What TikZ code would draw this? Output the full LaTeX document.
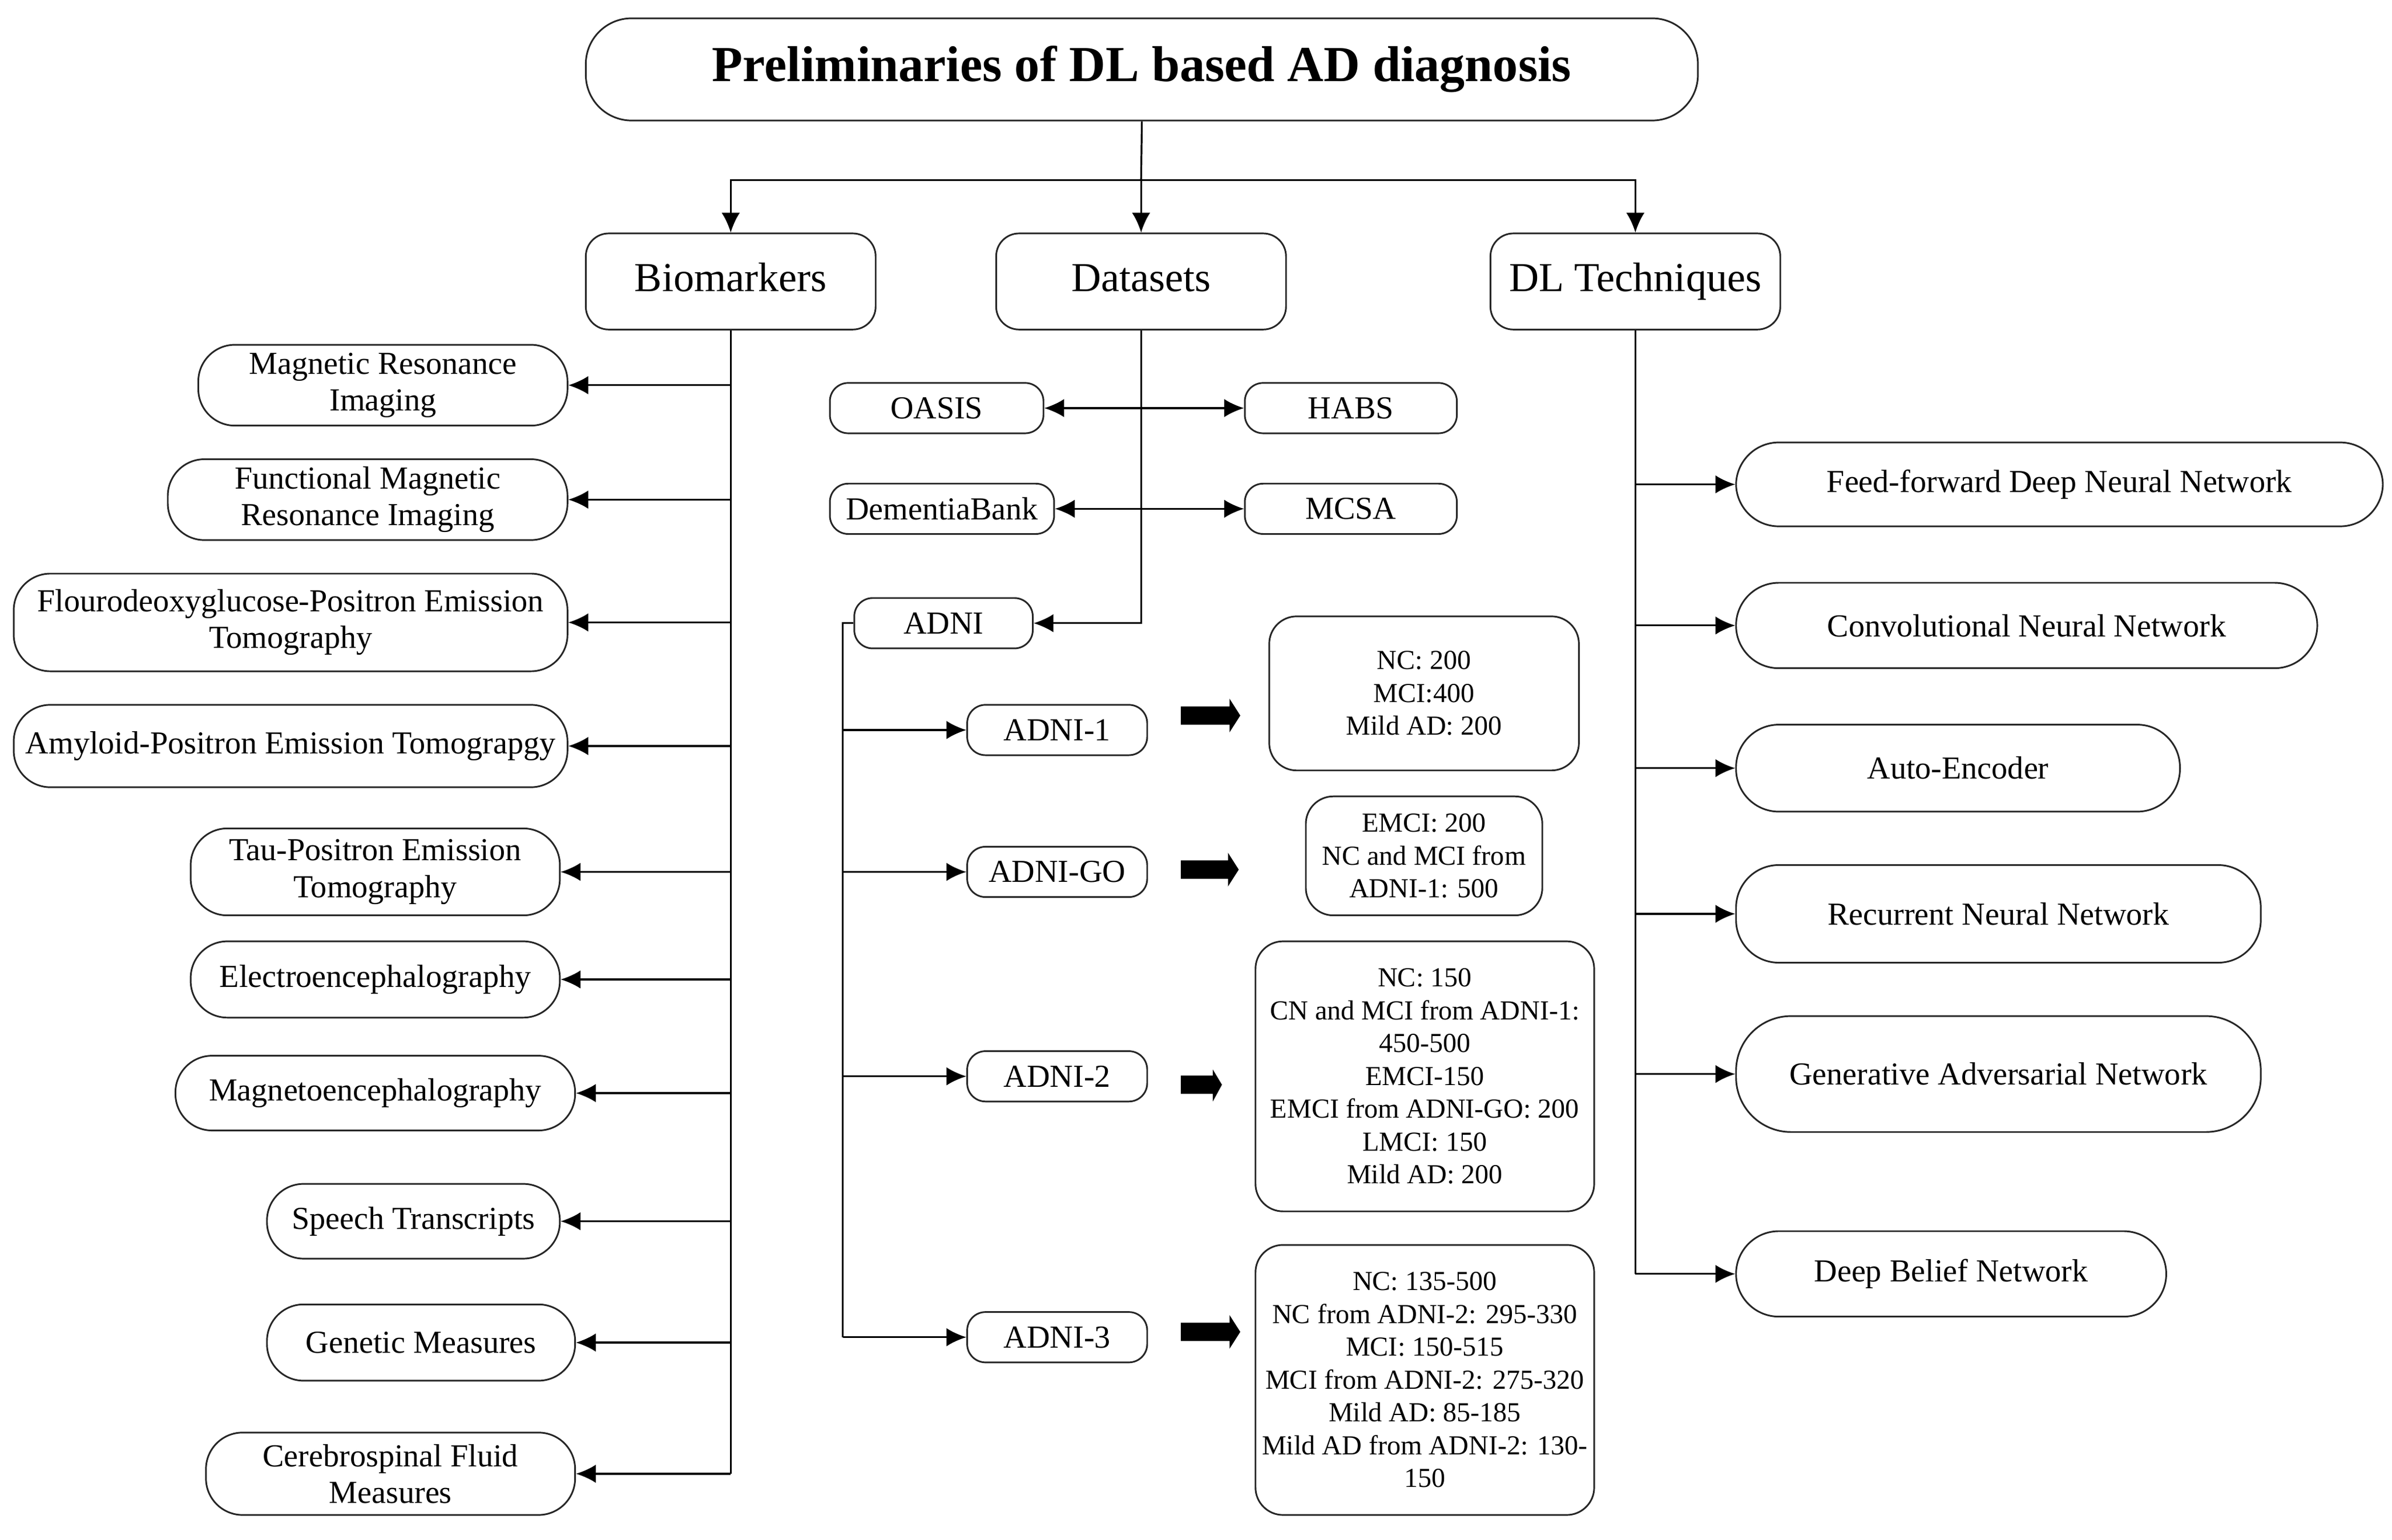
\documentclass[tikz,border=0pt]{standalone}
\usepackage{fontspec}
\setmainfont{Liberation Serif}
\usetikzlibrary{arrows.meta}
\begin{document}
\begin{tikzpicture}[x=0.5pt,y=-0.5pt,
  base/.style={draw=black!85, line width=0.55pt, align=center, inner sep=0pt, fill=white},
  titlebox/.style={base, rounded corners=15pt, minimum width=364.5pt, minimum height=33.5pt, font=\fontsize{16.5}{19}\selectfont\bfseries},
  catbox/.style={base, rounded corners=7.5pt, minimum width=95pt, minimum height=31.5pt, text height=9.5pt, text depth=3pt, font=\fontsize{13.5}{16}\selectfont},
  leaf/.style={base, rounded corners=12pt, font=\fontsize{10.5}{12}\selectfont},
  dlleaf/.style={base, rounded corners=14pt, font=\fontsize{10.5}{12}\selectfont},
  dsbox/.style={base, rounded corners=6pt, minimum height=16.5pt, font=\fontsize{10.5}{12}\selectfont},
  databox/.style={base, rounded corners=9pt, font=\fontsize{9}{10.75}\selectfont},
  conn/.style={line width=0.6pt, draw=black},
  arr/.style={conn, -{Latex[length=6.5pt,width=6pt]}},
  darr/.style={conn, {Latex[length=6.5pt,width=6pt]}-{Latex[length=6.5pt,width=6pt]}},
  blockarrow/.style={fill=black},
]
\useasboundingbox (0,0) rectangle (1568,1009.4);

% title and categories
\node[titlebox] (title) at (748.5,45.5) {Preliminaries of DL based AD diagnosis};
\node[catbox] (bio) at (479,184.5) {Biomarkers};
\node[catbox] (data) at (748,184.5) {Datasets};
\node[catbox] (dl) at (1072,184.5) {DL Techniques};

\coordinate (split) at (748,118);
\draw[conn] (title.south) -- (split);
\draw[arr] (split) -- (data.north);
\draw[arr] (split) -| (bio.north);
\draw[arr] (split) -| (dl.north);

% biomarkers
\node[leaf, minimum width=121pt, minimum height=26.5pt] (mri) at (251,252.5) {Magnetic Resonance\\Imaging};
\node[leaf, minimum width=131pt, minimum height=26.5pt] (fmri) at (241,327.5) {Functional Magnetic\\Resonance Imaging};
\node[leaf, minimum width=181.5pt, minimum height=32pt] (fdg) at (190.5,408) {Flourodeoxyglucose-Positron Emission\\Tomography};
\node[leaf, minimum width=181.5pt, minimum height=27pt] (amy) at (190.5,489) {Amyloid-Positron Emission Tomograpgy};
\node[leaf, minimum width=121pt, minimum height=28.5pt] (tau) at (246,571.5) {Tau-Positron Emission\\Tomography};
\node[leaf, minimum width=121pt, minimum height=25pt] (eeg) at (246,642) {Electroencephalography};
\node[leaf, minimum width=131pt, minimum height=24.5pt] (meg) at (246,716.5) {Magnetoencephalography};
\node[leaf, minimum width=96pt, minimum height=24.5pt] (speech) at (271,800.5) {Speech Transcripts};
\node[leaf, minimum width=101pt, minimum height=25pt] (gen) at (276,880) {Genetic Measures};
\node[leaf, minimum width=121pt, minimum height=27pt] (csf) at (256,966) {Cerebrospinal Fluid\\Measures};

\draw[conn] (bio.south) -- (bio.south |- csf.east);
\foreach \n in {mri,fmri,fdg,amy,tau,eeg,meg,speech,gen,csf}
  \draw[arr] (bio.south |- \n.east) -- (\n.east);

% datasets
\node[dsbox, minimum width=70pt] (oasis) at (614,267.5) {OASIS};
\node[dsbox, minimum width=69.5pt] (habs) at (885.5,267.5) {HABS};
\node[dsbox, minimum width=73.5pt] (dbank) at (617.5,333.5) {DementiaBank};
\node[dsbox, minimum width=69.5pt] (mcsa) at (885.5,333.5) {MCSA};
\node[dsbox, minimum width=58.5pt] (adni) at (618.5,408.5) {ADNI};

\draw[arr] (data.south) |- (adni.east);
\draw[darr] (oasis.east) -- (habs.west);
\draw[darr] (dbank.east) -- (mcsa.west);

\node[dsbox, minimum width=59pt] (adni1) at (693,478.5) {ADNI-1};
\node[dsbox, minimum width=59pt] (adnigo) at (693,571.5) {ADNI-GO};
\node[dsbox, minimum width=59pt] (adni2) at (693,705.5) {ADNI-2};
\node[dsbox, minimum width=59pt] (adni3) at (693,876.5) {ADNI-3};

\coordinate (asub) at (552.5,408.5);
\draw[conn] (adni.west) -- (asub) -- (asub |- adni3.west);
\foreach \n in {adni1,adnigo,adni2,adni3}
  \draw[arr] (asub |- \n.west) -- (\n.west);

\node[databox, minimum width=101.5pt, minimum height=50.5pt] (d1) at (933.5,454.5) {NC: 200\\MCI:400\\Mild AD: 200};
\node[databox, minimum width=77.5pt, minimum height=39pt] (dgo) at (933.5,561) {EMCI: 200\\NC and MCI from\\ADNI-1: 500};
\node[databox, minimum width=111pt, minimum height=88.5pt] (d2) at (934,705.5) {NC: 150\\CN and MCI from ADNI-1:\\450-500\\EMCI-150\\EMCI from ADNI-GO: 200\\LMCI: 150\\Mild AD: 200};
\node[databox, minimum width=111pt, minimum height=88.5pt] (d3) at (934,904.5) {NC: 135-500\\NC from ADNI-2: 295-330\\MCI: 150-515\\MCI from ADNI-2: 275-320\\Mild AD: 85-185\\Mild AD from ADNI-2: 130-\\150};

% block arrows
\fill[blockarrow] (774,463) -- (806,463) -- (806,458) -- (813,469) -- (806,480) -- (806,475) -- (774,475) -- cycle;
\fill[blockarrow] (774,564) -- (805,564) -- (805,559) -- (812,570) -- (805,581) -- (805,576) -- (774,576) -- cycle;
\fill[blockarrow] (774,705) -- (795,705) -- (795,701) -- (801,711) -- (795,722) -- (795,717) -- (774,717) -- cycle;
\fill[blockarrow] (774,867) -- (806,867) -- (806,862) -- (813,873) -- (806,884) -- (806,879) -- (774,879) -- cycle;

% DL techniques
\node[dlleaf, minimum width=212pt, minimum height=27.5pt] (ffn) at (1350,317.5) {Feed-forward Deep Neural Network};
\node[dlleaf, minimum width=190.5pt, minimum height=28pt] (cnn) at (1328.5,410) {Convolutional Neural Network};
\node[dlleaf, minimum width=145.5pt, minimum height=28.5pt] (ae) at (1283.5,503.5) {Auto-Encoder};
\node[dlleaf, minimum width=172pt, minimum height=32pt] (rnn) at (1310,599) {Recurrent Neural Network};
\node[dlleaf, rounded corners=18pt, minimum width=172pt, minimum height=38pt] (gan) at (1310,704) {Generative Adversarial Network};
\node[dlleaf, minimum width=141pt, minimum height=28pt] (dbn) at (1279,835) {Deep Belief Network};

\draw[conn] (dl.south) -- (dl.south |- dbn.west);
\foreach \n in {ffn,cnn,ae,rnn,gan,dbn}
  \draw[arr] (dl.south |- \n.west) -- (\n.west);
\end{tikzpicture}
\end{document}
